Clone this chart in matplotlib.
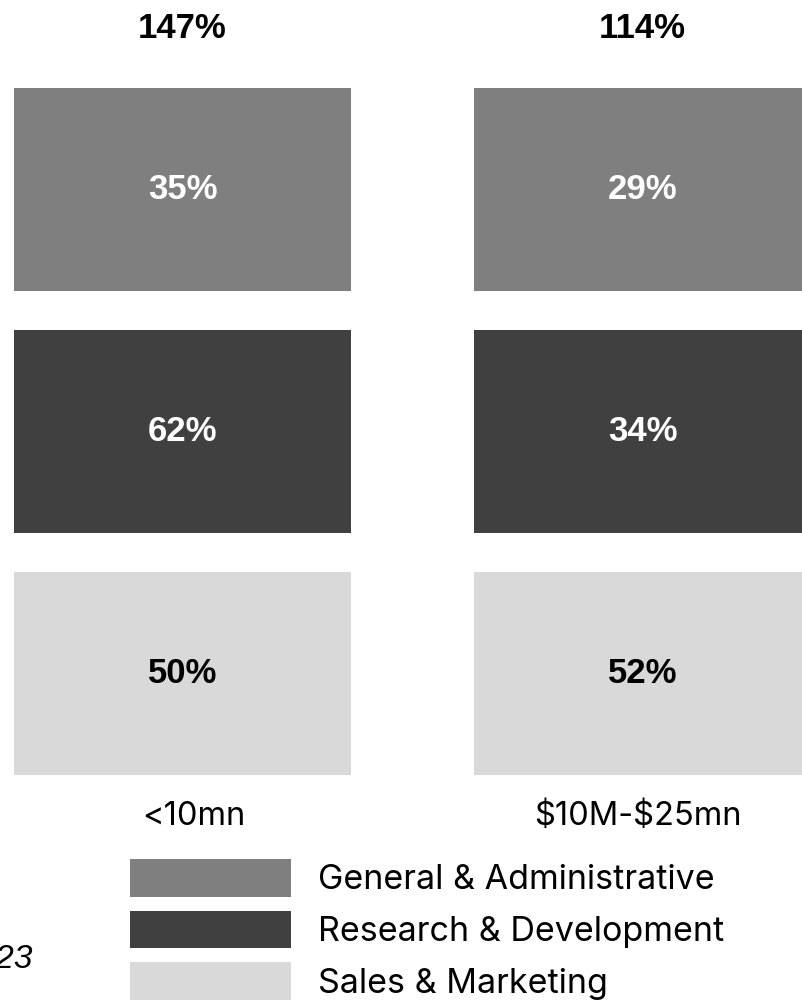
import matplotlib.pyplot as plt
import numpy as np

# data
categories = ['<10mn', r'\$10M-\$25mn']
totals = [147, 114]
series = ['General & Administrative', 'Research & Development', 'Sales & Marketing']
ga = [35, 29]
rd = [62, 34]
sm = [50, 52]
colors = ['#7f7f7f', '#404040', '#d9d9d9']
label_colors = ['white', 'white', 'black']

fig = plt.figure(figsize=(8.02, 10), dpi=100)
ax = fig.add_axes([0, 0, 1, 1])
ax.axis('off')

# one unit on x = distance between the two columns, one unit on y = one row
ax.set_xlim(-182.5 / 460, (802 - 182.5) / 460)
ax.set_ylim((1000 - 189.5) / 242, -189.5 / 242)

x = np.arange(len(categories))
bar_w = 337 / 460
bar_h = 203 / 242

for k, (name, vals) in enumerate(zip(series, [ga, rd, sm])):
    ax.bar(x, bar_h, width=bar_w, bottom=k - bar_h / 2, color=colors[k], label=name)
    for xi, v in zip(x, vals):
        ax.text(xi, k, f'{v}%', ha='center', va='center', fontsize=25,
                fontweight='bold', family='Liberation Sans', color=label_colors[k])

for xi, t in zip(x, totals):
    ax.text(xi, -0.665, f'{t}%', ha='center', va='center', fontsize=25,
            fontweight='bold', family='Liberation Sans')

# category labels sit a little off the column centres in the original
for xi, c, dx in zip(x, categories, [0.025, -0.01]):
    ax.text(xi + dx, 2.59, c, ha='center', va='center', fontsize=23.5, family='Inter')

ax.legend(loc='upper left', bbox_to_anchor=(130 / 802, 1 - 859 / 1000),
          bbox_transform=fig.transFigure, frameon=False, borderpad=0,
          borderaxespad=0, handlelength=4.73, handleheight=1.33,
          handletextpad=0.79, labelspacing=0.41,
          prop={'family': 'Inter', 'size': 24.5})

fig.text(33 / 802, 1 - 960 / 1000, '2023', ha='right', va='center',
         fontsize=24, style='italic', family='Liberation Sans')

fig.savefig('out.png', dpi=100)
